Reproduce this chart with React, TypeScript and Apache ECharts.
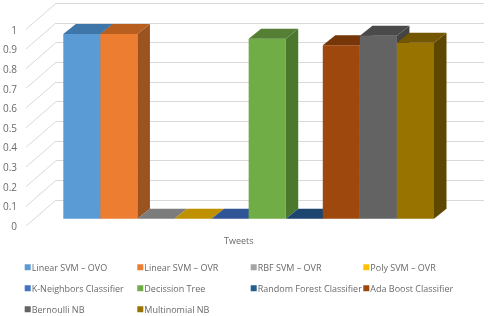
import React, { useEffect, useRef } from "react";
import * as echarts from "echarts";

const categories = ["Tweets"];
const names = [
  "Linear SVM – OVO", "Linear SVM – OVR", "RBF SVM – OVR", "Poly SVM – OVR", "K-Neighbors Classifier",
  "Decission Tree", "Random Forest Classifier", "Ada Boost Classifier", "Bernoulli NB", "Multinomial NB",
];
const values = [0.942, 0.942, 0, 0, 0, 0.918, 0, 0.885, 0.934, 0.898];
const frontColors = ["#5B9BD5", "#ED7D31", "#A5A5A5", "#FFC000", "#4472C4", "#70AD47", "#255E91", "#9E480E", "#636363", "#997300"];
const topColors = ["#3F76A9", "#B85E1E", "#7C7C7C", "#BF9000", "#2F5597", "#557F34", "#1C4670", "#763608", "#4A4A4A", "#735600"];
const sideColors = ["#37638F", "#9B5420", "#6A6A6A", "#A37B00", "#284A82", "#4C782E", "#173B5E", "#652E07", "#444444", "#5E4700"];
const yTicks = [0, 0.1, 0.2, 0.3, 0.4, 0.5, 0.6, 0.7, 0.8, 0.9, 1];
const legendColumns = [[0, 4, 8], [1, 5, 9], [2, 6], [3, 7]];
const legendLefts = [24.7, 137.3, 250.7, 363.3];

const DEPTH_X = 12.5;
const DEPTH_Y = -10;
const WALL_DX = -30;
const WALL_DY = 26;
const FONT = "'Open Sans', sans-serif";
const TEXT = "#6a6a6a";
const GRID_LINE = "#d9d9d9";

export default function App() {
  const ref = useRef<HTMLDivElement>(null);
  useEffect(() => {
    const chart = echarts.init(ref.current!, undefined, { renderer: "svg" });
    const barSeries = names.map((name, i) => ({
      type: "custom",
      name,
      xAxisIndex: 0,
      yAxisIndex: 0,
      z: 5,
      silent: true,
      itemStyle: { color: frontColors[i] },
      data: [[0, values[i]]],
      renderItem: (_p: any, api: any) => {
        const base = api.coord([api.value(0), 0]);
        const top = api.coord([api.value(0), api.value(1)]);
        const band = api.size([1, 0])[0];
        const w = band / names.length;
        const x0 = base[0] - band / 2 + i * w;
        const x1 = x0 + w;
        const yB = base[1];
        const yT = top[1];
        const children: any[] = [];
        if (yB - yT > 0.5) {
          children.push({ type: "rect", shape: { x: x0, y: yT, width: w, height: yB - yT }, style: { fill: frontColors[i] } });
          children.push({
            type: "polygon",
            shape: { points: [[x1, yB], [x1 + DEPTH_X, yB + DEPTH_Y], [x1 + DEPTH_X, yT + DEPTH_Y], [x1, yT]] },
            style: { fill: sideColors[i] },
          });
        }
        children.push({
          type: "polygon",
          shape: { points: [[x0, yT], [x1, yT], [x1 + DEPTH_X, yT + DEPTH_Y], [x0 + DEPTH_X, yT + DEPTH_Y]] },
          style: { fill: topColors[i] },
        });
        return { type: "group", children };
      },
    }));
    const wallSeries = {
      type: "custom",
      name: "wall",
      xAxisIndex: 1,
      yAxisIndex: 1,
      z: 1,
      silent: true,
      data: yTicks.map((t) => [0, t]),
      renderItem: (_p: any, api: any) => {
        const p = api.coord([0, api.value(1)]);
        return {
          type: "line",
          shape: { x1: p[0], y1: p[1], x2: p[0] + WALL_DX, y2: p[1] + WALL_DY },
          style: { stroke: GRID_LINE, lineWidth: 1 },
        };
      },
    };
    chart.setOption({
      animation: false,
      backgroundColor: "#ffffff",
      grid: [
        { left: 63.3, width: 370.7, top: 22.7, height: 196, containLabel: false },
        { left: 56, width: 428, top: 3.3, height: 196.7 },
        { left: 26, width: 425.4, top: 29.7, height: 196 },
      ],
      xAxis: [
        { type: "category", gridIndex: 0, data: categories, show: false },
        { type: "value", gridIndex: 1, min: 0, max: 1, show: false },
        {
          type: "category", gridIndex: 2, data: categories,
          axisLine: { show: false }, axisTick: { show: false },
          axisLabel: { color: TEXT, fontFamily: FONT, fontSize: 9, margin: 10 },
        },
      ],
      yAxis: [
        { type: "value", gridIndex: 0, min: 0, max: 1, show: false },
        {
          type: "value", gridIndex: 1, min: 0, max: 1, interval: 0.1,
          axisLine: { show: false }, axisTick: { show: false }, axisLabel: { show: false },
          splitLine: { show: true, lineStyle: { color: GRID_LINE, width: 1 } },
        },
        {
          type: "value", gridIndex: 2, min: 0, max: 1, interval: 0.1,
          axisLine: { show: false }, axisTick: { show: false }, splitLine: { show: false },
          axisLabel: { color: TEXT, fontFamily: FONT, fontSize: 10, margin: 9, formatter: (v: number) => String(Math.round(v * 10) / 10) },
        },
      ],
      legend: legendColumns.map((col, c) => ({
        orient: "vertical",
        left: legendLefts[c],
        top: 261,
        padding: 0,
        itemWidth: 6,
        itemHeight: 6,
        itemGap: 8.5,
        icon: "rect",
        selectedMode: false,
        textStyle: { color: TEXT, fontFamily: FONT, fontSize: 9, lineHeight: 12.5, padding: [0, 0, 0, -4] },
        data: col.map((i) => names[i]),
      })),
      series: [wallSeries, ...barSeries],
    });
    return () => chart.dispose();
  }, []);
  return <div ref={ref} style={{ position: "fixed", left: 0, top: 0, width: 490, height: 316, filter: "blur(0.35px)" }} />;
}
